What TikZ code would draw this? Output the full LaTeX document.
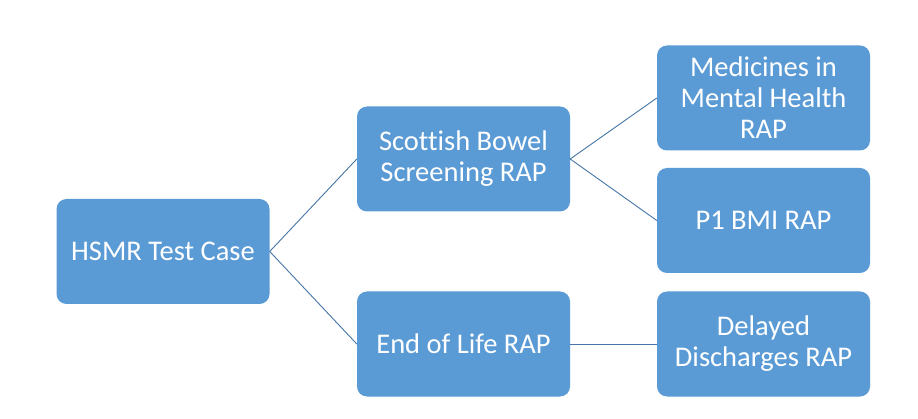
\documentclass[tikz,border=0pt]{standalone}
\usepackage{fontspec}
\setmainfont{Carlito}[Ligatures=NoCommon]
\definecolor{boxfill}{HTML}{5B9BD5}
\definecolor{linec}{RGB}{70,118,168}
\begin{document}
\begin{tikzpicture}[x=1pt,y=-1pt,
  box/.style={fill=boxfill,draw=none,rounded corners=10pt,minimum width=213pt,minimum height=105pt,inner sep=0pt,align=center,text=white,font=\fontsize{28.5}{31}\selectfont},
  conn/.style={draw=linec,line width=0.9pt}]
\useasboundingbox[fill=white] (0,0) rectangle (918,419);
\node[box] (hsmr) at (163,251.5) {HSMR Test Case};
\node[box] (sbs) at (463.5,159) {Scottish Bowel\\Screening RAP};
\node[box] (eol) at (463.5,344) {End of Life RAP};
\node[box] (med) at (763.5,98) {Medicines in\\Mental Health\\RAP};
\node[box] (bmi) at (763.5,220.5) {P1 BMI RAP};
\node[box] (dd) at (763.5,344) {Delayed\\Discharges RAP};
\draw[conn] (hsmr.east) -- (sbs.west);
\draw[conn] (hsmr.east) -- (eol.west);
\draw[conn] (sbs.east) -- (med.west);
\draw[conn] (sbs.east) -- (bmi.west);
\draw[conn] (eol.east) -- (dd.west);
\end{tikzpicture}
\end{document}
